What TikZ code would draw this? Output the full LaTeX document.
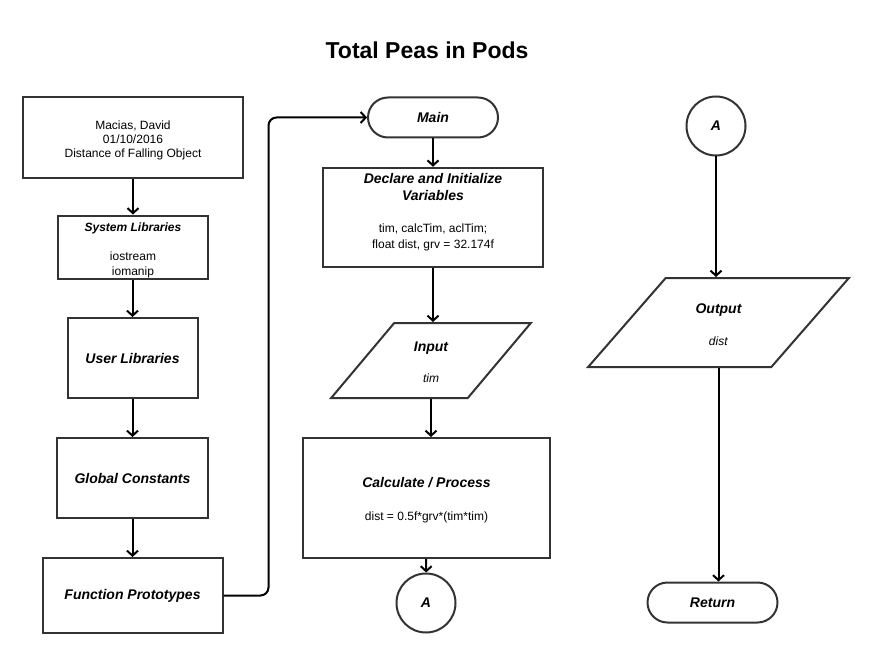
\documentclass[tikz,border=0pt]{standalone}
\usepackage{fontspec}
\setmainfont{Liberation Sans}
\usetikzlibrary{shapes.geometric,arrows.meta}
\definecolor{edge}{HTML}{333333}
\tikzset{
  box/.style={draw=edge,line width=2pt,fill=white,align=center,inner sep=2pt,
    font=\fontsize{12}{14.5}\selectfont},
  term/.style={box,rounded corners=20pt,minimum width=130pt,minimum height=40pt},
  io/.style={box,trapezium,trapezium stretches=true},
  conn/.style={box,circle,minimum size=59pt},
  flowline/.style={line width=2pt,-{Straight Barb[length=5pt,width=11pt]}}
}
\newcommand{\hd}[1]{{\fontsize{14}{16}\selectfont\bfseries\itshape #1}}
\newcommand{\sink}{\rule{0pt}{14pt}}
\begin{document}
\begin{tikzpicture}[x=1pt,y=-1pt]
   \useasboundingbox (0,0) rectangle (874,663);
   \node (title) at (427,50.5) {\fontsize{23}{27}\selectfont\bfseries Total Peas in Pods};

   % left column
   \node[box,minimum width=220pt,minimum height=81pt,font=\fontsize{12}{14}\selectfont] (info) at (133,137.5)
      {\sink Macias, David\\01/10/2016\\Distance of Falling Object};
   \node[box,minimum width=150pt,minimum height=61pt] (syslib) at (133,247.5)
      {\sink{\fontsize{12}{14}\selectfont\bfseries\itshape System Libraries}\\[14.5pt]iostream\\iomanip};
   \node[box,minimum width=130pt,minimum height=80pt] (userlib) at (132.5,358) {\hd{User Libraries}};
   \node[box,minimum width=151pt,minimum height=80pt] (globconst) at (132.5,478) {\hd{Global Constants}};
   \node[box,minimum width=180pt,minimum height=75pt] (funcproto) at (132.5,595.5) {\hd{Function Prototypes}};

   % middle column
   \node[term] (main) at (433,117.5) {\hd{Main}};
   \node[box,minimum width=220pt,minimum height=99pt,font=\fontsize{12}{16.3}\selectfont] (declare) at (433,217.5)
      {\sink\hd{Declare and Initialize}\\\hd{Variables}\\[16.3pt]tim, calcTim, aclTim;\\float dist, grv = 32.174f\\\mbox{}};
   \node[io,minimum width=200pt,minimum height=75pt,trapezium left angle=56.31,trapezium right angle=123.69,
      font=\fontsize{12}{15.5}\selectfont] (input) at (431,360.5)
      {\sink\hd{Input}\\[15.5pt]\textit{tim}};
   \node[box,minimum width=247pt,minimum height=120pt,font=\fontsize{12}{16.5}\selectfont] (calc) at (426.5,498)
      {\sink\hd{Calculate / Process}\\[16.5pt]dist = 0.5f*grv*(tim*tim)};
   \node[conn] (conA) at (426,603) {\hd{A}};

   % right column
   \node[conn] (conB) at (716,126) {\hd{A}};
   \node[io,minimum width=261pt,minimum height=89pt,trapezium left angle=53.86,trapezium right angle=126.14,
      font=\fontsize{12}{16}\selectfont] (output) at (718.5,322.5)
      {\sink\hd{Output}\\[16pt]\textit{dist}};
   \node[term] (return) at (712.5,602.5) {\hd{Return}};

   \draw[flowline] (info) -- (syslib);
   \draw[flowline] (syslib.south -| userlib.north) -- (userlib);
   \draw[flowline] (userlib) -- (globconst);
   \draw[flowline] (globconst) -- (funcproto);
   \draw[flowline,rounded corners=8pt] (funcproto.east) -- ++(45,0) |- (main.west);
   \draw[flowline] (main) -- (declare);
   \draw[flowline] (declare.south) -- (declare.south |- input.north);
   \draw[flowline] (input.south) -- (input.south |- calc.north);
   \draw[flowline] (calc) -- (conA);
   \draw[flowline] (conB.south) -- (conB.south |- output.north);
   \draw[flowline] (output.south) -- (output.south |- return.north);
\end{tikzpicture}
\end{document}
